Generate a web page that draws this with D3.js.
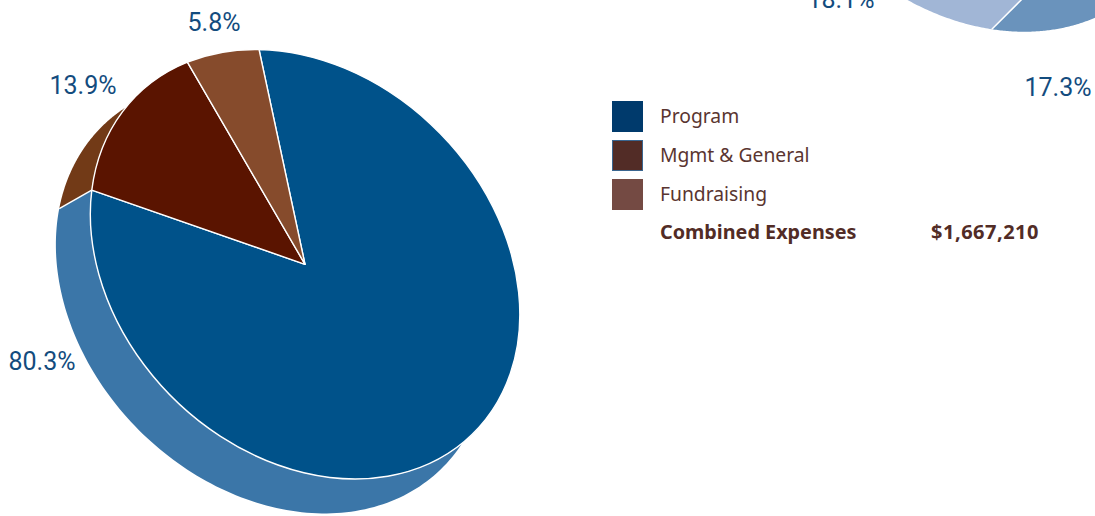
<!DOCTYPE html>
<html><head><meta charset="utf-8">
<script src="https://cdn.jsdelivr.net/npm/d3@7/dist/d3.min.js"></script>
<style>html,body{margin:0;padding:0;background:#fff;overflow:hidden}svg{display:block}</style>
</head><body><svg id="c" width="1095" height="516"></svg>
<script>
const expenseCategories = ["Program","Mgmt & General","Fundraising"];
const expenseValues = [80.3,13.9,5.8];
const expenseLabels = ["80.3%","13.9%","5.8%"];
const otherValues = [17.3,18.1];
const otherLabels = ["17.3%","18.1%"];
const totalLabel = "Combined Expenses";
const totalValue = "$1,667,210";

const topColors = ["#00528a","#5a1400","#864b2c"];
const sideColors = ["#3b76a8","#723a17","#864b2c"];
const otherSide = ["#6a93bc","#a1b6d6"];
const otherTop = ["#00528a","#00528a"];
const legendColors = ["#003a6c","#522c26","#744a43"];
const legendStrokes = ["none","#3a6690","none"];
const RX=238.5, RY=188, ROT=45, DEPTH=33;
const deg=Math.PI/180, svg=d3.select("#c");

function drawPie(values,startDeg,cx,cy,tops,sides,converge,margin,grow){
  const total = values===expenseValues ? d3.sum(values) : 100;
  const start=startDeg*deg;
  const arcs=d3.pie().sort(null).startAngle(start)
    .endAngle(start+2*Math.PI*d3.sum(values)/total)(values);
  const proj=(a,dx=0,dy=0,extra=0)=>{
    const u=(RX+extra)*Math.sin(a), v=-RY*Math.cos(a), c=Math.cos(ROT*deg), s=Math.sin(ROT*deg);
    return [cx+u*c-v*s+dx, cy+u*s+v*c+dy];
  };
  const low=a=>proj(a+converge*(a-Math.PI),-DEPTH,DEPTH,grow);
  const line=d3.line();
  const lo=(90-margin)*deg, hi=(270+margin)*deg;
  arcs.forEach((d,i)=>{
    const a=Math.max(d.startAngle,lo), b=Math.min(d.endAngle,hi);
    if(b<=a) return;
    const steps=d3.range(0,121).map(k=>a+(b-a)*k/120);
    const pts=steps.map(t=>proj(t)).concat(steps.slice().reverse().map(low));
    svg.append("path").attr("d",line(pts)+"Z").attr("fill",sides[i]);
  });
  arcs.forEach(d=>{
    if(d.endAngle>lo&&d.endAngle<hi&&d!==arcs[arcs.length-1]){
      svg.append("path").attr("d",line([proj(d.endAngle),low(d.endAngle)]))
        .attr("stroke","#fff").attr("stroke-width",1.5).attr("fill","none");
    }
  });
  const g=svg.append("g").attr("transform",`translate(${cx},${cy}) rotate(${ROT}) scale(${RX},${RY})`);
  const arc=d3.arc().innerRadius(0).outerRadius(1);
  g.selectAll("path").data(arcs).join("path").attr("d",arc)
    .attr("fill",(d,i)=>tops[i]).attr("stroke","#fff")
    .attr("stroke-width",1.4).attr("vector-effect","non-scaling-stroke").attr("stroke-linejoin","round");
}
drawPie(expenseValues,-50.6,305,264.3,topColors,sideColors,0.063,4,2.5);
drawPie(otherValues,74.7,1007,-216,otherTop,otherSide,0,0,0);

const labelColor="#134c7e";
const labels=[[expenseLabels[0],42,361],[expenseLabels[1],83,85],[expenseLabels[2],214,22],[otherLabels[0],1058,87],[otherLabels[1],841,-1]];
svg.selectAll("text.pct").data(labels).join("text").attr("class","pct")
  .attr("x",d=>d[1]).attr("y",d=>d[2]).attr("text-anchor","middle").attr("dominant-baseline","central")
  .attr("font-family","Roboto").attr("font-weight",400).attr("font-size",25).attr("fill",labelColor).text(d=>d[0]);

const ly=d3.scalePoint().domain(expenseCategories).range([116.5,194.5]);
const leg=svg.append("g");
leg.selectAll("rect").data(expenseCategories).join("rect")
  .attr("x",(d,i)=>legendStrokes[i]==="none"?612:612.5).attr("y",(d,i)=>ly(d)-(legendStrokes[i]==="none"?15.5:15))
  .attr("width",(d,i)=>legendStrokes[i]==="none"?31:30).attr("height",(d,i)=>legendStrokes[i]==="none"?31:30)
  .attr("fill",(d,i)=>legendColors[i]).attr("stroke",(d,i)=>legendStrokes[i]);
leg.selectAll("text").data(expenseCategories).join("text")
  .attr("x",660).attr("y",d=>ly(d)+6.5).attr("font-family","Noto Sans").attr("font-size",19.3).attr("fill","#5a3530").text(d=>d);
svg.append("text").attr("x",660).attr("y",239).attr("font-family","Noto Sans").attr("font-weight",700).attr("font-size",19.8).attr("fill","#522c26").text(totalLabel);
svg.append("text").attr("x",1039).attr("y",239).attr("text-anchor","end").attr("letter-spacing",0.5).attr("font-family","Noto Sans").attr("font-weight",700).attr("font-size",20).attr("fill","#522c26").text(totalValue);
</script></body></html>
